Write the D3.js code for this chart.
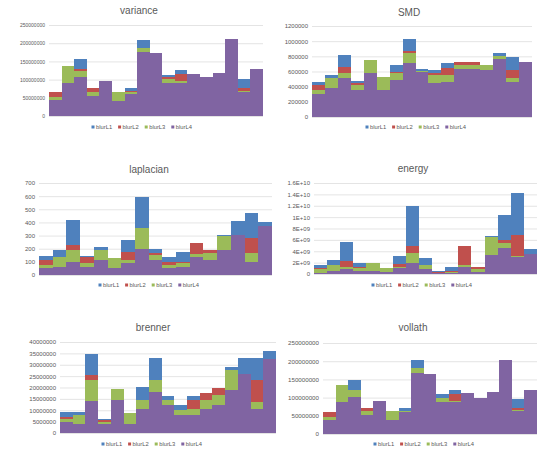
<!DOCTYPE html>
<html>
<head>
<meta charset="utf-8">
<script src="https://cdn.jsdelivr.net/npm/d3@7"></script>
<style>
  body { margin: 0; background: #fff; }
  svg { display: block; }
</style>
</head>
<body>
<svg id="chart" width="550" height="457"></svg>
<script>
// 17 blocks of images along the x axis
var groups = ["g1", "g2", "g3", "g4", "g5", "g6", "g7", "g8", "g9",
              "g10", "g11", "g12", "g13", "g14", "g15", "g16", "g17"];
var seriesNames = ["blurL1", "blurL2", "blurL3", "blurL4"];
var seriesColors = ["#4f81bd", "#c0504d", "#9bbb59", "#8064a2"];

// variance (x 1e6), one row per series
var variance = [
    [60, 128, 156, 72, 93, 60, 76, 210, 168, 114, 127, 112, 104, 116, 208, 103, 128],
    [66, 130, 128, 77, 92, 58, 68, 186, 166, 106, 116, 110, 102, 114, 206, 78, 126],
    [53, 137, 124, 66, 94, 66, 66, 188, 168, 102, 96, 110, 102, 114, 206, 70, 126],
    [44, 91, 106, 55, 96, 42, 60, 175, 172, 90, 90, 115, 106, 118, 211, 67, 130]
];
var varianceTicks = [0, 50, 100, 150, 200, 250];
var varianceLabels = ["0", "50000000", "100000000", "150000000", "200000000", "250000000"];

// SMD (x 1e3)
var smd = [
    [466, 554, 818, 479, 700, 500, 686, 1024, 630, 625, 708, 700, 690, 660, 840, 787, 715],
    [422, 500, 664, 452, 720, 510, 600, 870, 600, 580, 642, 730, 730, 670, 800, 620, 715],
    [356, 510, 576, 420, 752, 532, 576, 840, 610, 554, 560, 680, 680, 686, 800, 510, 715],
    [303, 378, 510, 356, 576, 356, 488, 708, 590, 444, 466, 629, 629, 620, 761, 466, 730]
];
var smdTicks = [0, 200, 400, 600, 800, 1000, 1200];
var smdLabels = ["0", "200000", "400000", "600000", "800000", "1000000", "1200000"];

// laplacian
var laplacian = [
    [142, 191, 415, 145, 211, 120, 267, 590, 196, 140, 178, 200, 150, 305, 410, 472, 405],
    [117, 130, 229, 140, 180, 110, 178, 267, 170, 100, 102, 240, 191, 260, 290, 280, 360],
    [76, 140, 191, 89, 191, 127, 115, 360, 153, 76, 90, 160, 165, 298, 295, 165, 360],
    [51, 64, 102, 64, 115, 51, 89, 195, 115, 51, 64, 140, 115, 190, 305, 102, 370]
];
var laplacianTicks = [0, 100, 200, 300, 400, 500, 600, 700];
var laplacianLabels = ["0", "100", "200", "300", "400", "500", "600", "700"];

// energy (x 1e9)
var energy = [
    [1.6, 2.5, 5.7, 1.9, 1.9, 0.9, 3.1, 11.9, 2.9, 0.6, 1.2, 4.3, 1.0, 6.7, 10.4, 14.2, 4.4],
    [1.0, 1.2, 2.2, 1.3, 1.5, 0.7, 1.8, 4.9, 1.4, 0.3, 0.6, 4.9, 1.2, 5.0, 6.0, 6.9, 3.4],
    [0.8, 1.6, 1.3, 1.0, 2.0, 1.0, 1.3, 3.7, 1.6, 0.2, 0.4, 1.6, 0.8, 6.5, 5.5, 3.1, 3.4],
    [0.2, 0.5, 0.8, 0.6, 0.6, 0.3, 1.0, 1.9, 0.8, 0.1, 0.2, 1.3, 0.3, 3.4, 4.6, 3.0, 3.5]
];
var energyTicks = [0, 2, 4, 6, 8, 10, 12, 14, 16];
var energyLabels = ["0", "2E+09", "4E+09", "6E+09", "8E+09", "1E+10", "1.2E+10", "1.4E+10", "1.6E+10"];

// brenner (x 1e6)
var brenner = [
    [9.2, 9.2, 34.9, 6.2, 18.0, 8.0, 20.2, 33.1, 16.1, 12.5, 16.1, 15.1, 16.0, 29.0, 33.1, 33.1, 35.9],
    [7.0, 6.5, 25.4, 5.5, 16.5, 7.0, 14.0, 23.0, 14.0, 9.5, 14.4, 17.6, 19.9, 26.0, 24.0, 23.2, 32.5],
    [6.3, 7.8, 23.2, 4.8, 19.5, 8.8, 14.4, 23.2, 14.5, 10.0, 10.4, 14.4, 16.5, 27.6, 25.0, 13.6, 32.5],
    [4.8, 3.8, 14.0, 3.8, 14.4, 3.8, 10.7, 18.0, 12.2, 7.8, 7.8, 10.7, 12.2, 18.7, 26.0, 10.7, 32.7]
];
var brennerTicks = [0, 5, 10, 15, 20, 25, 30, 35, 40];
var brennerLabels = ["0", "5000000", "10000000", "15000000", "20000000", "25000000", "30000000", "35000000", "40000000"];

// vollath (x 1e6)
var vollath = [
    [58, 126, 149, 68, 90, 58, 71, 202, 164, 111, 122, 108, 98, 112, 202, 97, 118],
    [60, 128, 122, 72, 89, 56, 64, 178, 162, 100, 111, 106, 96, 110, 200, 72, 116],
    [48, 134, 120, 63, 90, 63, 63, 180, 164, 99, 92, 106, 96, 110, 200, 65, 116],
    [39, 88, 103, 51, 92, 39, 60, 167, 166, 88, 88, 112, 100, 115, 204, 63, 122]
];
var vollathTicks = [0, 50, 100, 150, 200, 250];
var vollathLabels = ["0", "50000000", "100000000", "150000000", "200000000", "250000000"];

// where each small chart sits in the picture
var charts = [
    { title: "variance", vals: variance, ticks: varianceTicks, labels: varianceLabels,
      x0: 49, x1: 263, yTop: 25, yBot: 116, tx: 139, ty: 11, lx: 93, ly: 127, tickFont: 5 },
    { title: "SMD", vals: smd, ticks: smdTicks, labels: smdLabels,
      x0: 312, x1: 532, yTop: 26, yBot: 117, tx: 409, ty: 13, lx: 367, ly: 127, tickFont: 6 },
    { title: "laplacian", vals: laplacian, ticks: laplacianTicks, labels: laplacianLabels,
      x0: 39, x1: 272, yTop: 183, yBot: 275, tx: 149, ty: 170, lx: 100, ly: 285, tickFont: 6 },
    { title: "energy", vals: energy, ticks: energyTicks, labels: energyLabels,
      x0: 314, x1: 537, yTop: 183, yBot: 274, tx: 413, ty: 169, lx: 373, ly: 285, tickFont: 6 },
    { title: "brenner", vals: brenner, ticks: brennerTicks, labels: brennerLabels,
      x0: 60, x1: 276, yTop: 342, yBot: 433, tx: 153, ty: 328, lx: 103, ly: 444, tickFont: 6 },
    { title: "vollath", vals: vollath, ticks: vollathTicks, labels: vollathLabels,
      x0: 323, x1: 537, yTop: 343, yBot: 434, tx: 413, ty: 328, lx: 375, ly: 444, tickFont: 6.2 }
];

var svg = d3.select("#chart");
var font = "'Liberation Sans', Arial, sans-serif";
var grey = "#595959";

charts.forEach(function (c) {
    var g = svg.append("g");

    var x = d3.scaleBand()
        .domain(groups)
        .range([c.x0, c.x1])
        .padding(0);

    var y = d3.scaleLinear()
        .domain([0, d3.max(c.ticks)])
        .range([c.yBot, c.yTop]);

    // whole-pixel column edges so neighbouring columns meet without seams
    function left(i) { return Math.round(x(groups[i])); }
    function right(i) { return Math.round(x(groups[i]) + x.bandwidth()); }

    // gridlines + tick labels
    var axis = g.append("g")
        .attr("transform", "translate(" + c.x0 + ",0)")
        .call(d3.axisLeft(y)
            .tickValues(c.ticks)
            .tickFormat(function (d, i) { return c.labels[i]; })
            .tickSizeInner(-(c.x1 - c.x0))
            .tickSizeOuter(0)
            .tickPadding(4));
    axis.select(".domain").remove();
    axis.selectAll(".tick line")
        .attr("stroke", "#d9d9d9")
        .attr("stroke-width", 0.7);
    axis.selectAll(".tick text")
        .attr("fill", grey)
        .style("font-family", font)
        .style("font-size", c.tickFont + "px");

    // columns, overlapped: blurL1 at the back, blurL4 in front
    c.vals.forEach(function (row, s) {
        g.append("g")
            .attr("shape-rendering", "crispEdges")
            .selectAll("rect")
            .data(row)
            .enter()
            .append("rect")
            .attr("x", function (d, i) { return left(i); })
            .attr("width", function (d, i) { return right(i) - left(i); })
            .attr("y", function (d) { return y(d); })
            .attr("height", function (d) { return c.yBot - y(d); })
            .attr("fill", seriesColors[s]);
    });

    // title
    g.append("text")
        .attr("x", c.tx)
        .attr("y", c.ty)
        .attr("text-anchor", "middle")
        .attr("dominant-baseline", "middle")
        .attr("fill", grey)
        .style("font-family", font)
        .style("font-size", "10px")
        .text(c.title);

    // legend
    var legend = g.selectAll(".legend")
        .data(seriesNames)
        .enter()
        .append("g")
        .attr("transform", function (d, i) { return "translate(" + (c.lx + i * 26.6) + "," + c.ly + ")"; });
    legend.append("rect")
        .attr("x", -1.5)
        .attr("y", -1.5)
        .attr("width", 3)
        .attr("height", 3)
        .attr("fill", function (d, i) { return seriesColors[i]; });
    legend.append("text")
        .attr("x", 3)
        .attr("dominant-baseline", "middle")
        .attr("fill", grey)
        .style("font-family", font)
        .style("font-size", "5.8px")
        .text(function (d) { return d; });
});
</script>
</body>
</html>
